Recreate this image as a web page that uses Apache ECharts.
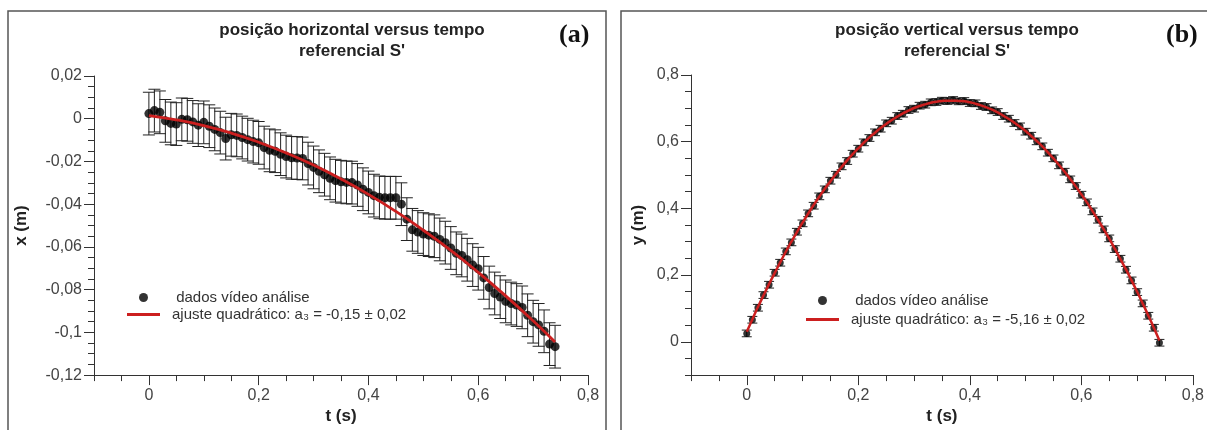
<!DOCTYPE html>
<html>
<head>
<meta charset="utf-8">
<script src="https://cdn.jsdelivr.net/npm/echarts@6/dist/echarts.min.js"></script>
<style>
  html, body { margin: 0; padding: 0; background: #fff; }
  #main { width: 1207px; height: 430px; }
</style>
</head>
<body>
<div id="main"></div>
<script>
// tempo (s) de cada quadro
var tempo = [
  0, 0.01, 0.02, 0.03, 0.04, 0.05, 0.06, 0.07, 0.08, 0.09,
  0.10, 0.11, 0.12, 0.13, 0.14, 0.15, 0.16, 0.17, 0.18, 0.19,
  0.20, 0.21, 0.22, 0.23, 0.24, 0.25, 0.26, 0.27, 0.28, 0.29,
  0.30, 0.31, 0.32, 0.33, 0.34, 0.35, 0.36, 0.37, 0.38, 0.39,
  0.40, 0.41, 0.42, 0.43, 0.44, 0.45, 0.46, 0.47, 0.48, 0.49,
  0.50, 0.51, 0.52, 0.53, 0.54, 0.55, 0.56, 0.57, 0.58, 0.59,
  0.60, 0.61, 0.62, 0.63, 0.64, 0.65, 0.66, 0.67, 0.68, 0.69,
  0.70, 0.71, 0.72, 0.73, 0.74
];
// (a) posição horizontal x (m)
var posX = [
  0.0024, 0.0038, 0.0030, -0.0010, -0.0022, -0.0025, -0.0003, -0.0005, -0.0015, -0.0030,
  -0.0017, -0.0035, -0.0050, -0.0065, -0.0093, -0.0075, -0.0078, -0.0088, -0.0098, -0.0107,
  -0.0113, -0.0135, -0.0148, -0.0152, -0.0166, -0.0177, -0.0183, -0.0184, -0.0186, -0.0210,
  -0.0228, -0.0246, -0.0262, -0.0279, -0.0290, -0.0295, -0.0298, -0.0299, -0.0310, -0.0330,
  -0.0345, -0.0360, -0.0368, -0.0370, -0.0370, -0.0370, -0.0400, -0.0470, -0.0520, -0.0530,
  -0.0540, -0.0545, -0.0550, -0.0565, -0.0580, -0.0605, -0.0630, -0.0640, -0.0660, -0.0685,
  -0.0702, -0.0745, -0.0790, -0.0818, -0.0835, -0.0855, -0.0865, -0.0872, -0.0883, -0.0920,
  -0.0950, -0.0965, -0.0995, -0.1055, -0.1067
];
var erroX = 0.01;
// ajuste quadrático (a)
var tempoAjusteX = [0, 0.05, 0.10, 0.15, 0.20, 0.25, 0.30, 0.35, 0.40, 0.45, 0.50, 0.55, 0.60, 0.65, 0.70, 0.74];
var ajusteX = [0.0015, -0.0005, -0.0032, -0.0067, -0.0110, -0.0160, -0.0217, -0.0282, -0.0354, -0.0434, -0.0522, -0.0616, -0.0719, -0.0829, -0.0946, -0.1045];

// (b) posição vertical y (m)
var posY = [
  0.025, 0.066, 0.102, 0.140, 0.171, 0.207, 0.237, 0.271, 0.298, 0.330,
  0.355, 0.385, 0.408, 0.436, 0.457, 0.483, 0.501, 0.526, 0.542, 0.564,
  0.579, 0.598, 0.611, 0.628, 0.639, 0.655, 0.663, 0.677, 0.684, 0.695,
  0.699, 0.708, 0.711, 0.718, 0.719, 0.723, 0.722, 0.725, 0.721, 0.722,
  0.716, 0.715, 0.707, 0.704, 0.694, 0.689, 0.677, 0.669, 0.656, 0.646,
  0.630, 0.618, 0.601, 0.586, 0.567, 0.550, 0.529, 0.510, 0.487, 0.467,
  0.441, 0.418, 0.391, 0.366, 0.337, 0.310, 0.278, 0.249, 0.216, 0.184,
  0.149, 0.115, 0.078, 0.042, -0.003
];
var erroY = 0.01;
// ajuste quadrático (b)
var ajusteY = [
  0.030, 0.067, 0.104, 0.139, 0.173, 0.206, 0.238, 0.270, 0.300, 0.329,
  0.357, 0.384, 0.410, 0.435, 0.459, 0.481, 0.503, 0.524, 0.544, 0.563,
  0.580, 0.597, 0.613, 0.627, 0.641, 0.653, 0.665, 0.675, 0.685, 0.693,
  0.701, 0.707, 0.712, 0.717, 0.720, 0.722, 0.723, 0.723, 0.722, 0.721,
  0.718, 0.714, 0.709, 0.703, 0.696, 0.688, 0.678, 0.668, 0.657, 0.645,
  0.632, 0.617, 0.602, 0.586, 0.568, 0.550, 0.530, 0.510, 0.488, 0.466,
  0.442, 0.418, 0.392, 0.365, 0.338, 0.309, 0.279, 0.248, 0.217, 0.184,
  0.150, 0.115, 0.079, 0.042, 0.004
];

// ticks
var ticksXMajor = [0, 0.2, 0.4, 0.6, 0.8];
var ticksAMajor = [-0.12, -0.1, -0.08, -0.06, -0.04, -0.02, 0, 0.02];
var ticksBMajor = [0, 0.2, 0.4, 0.6, 0.8];

var fonte = "'Liberation Sans', Arial, 'DejaVu Sans', sans-serif";
var corEixo = '#333';
var vermelho = '#cc1f1f';
var iconeLinha = 'path://M0,0h33v3h-33z';

function virgula(v) {
  return String(+v.toFixed(3)).replace('.', ',');
}

function zip(xs, ys, e) {
  return xs.map(function (x, i) {
    return e === undefined ? [x, ys[i]] : [x, ys[i], e];
  });
}

// barras de erro
function barraErro(w) {
  return function (params, api) {
    var t = api.value(0), v = api.value(1), e = api.value(2);
    var hi = api.coord([t, v + e]);
    var lo = api.coord([t, v - e]);
    var st = { stroke: '#222', lineWidth: 1 };
    return {
      type: 'group',
      children: [
        { type: 'line', shape: { x1: hi[0], y1: hi[1], x2: lo[0], y2: lo[1] }, style: st },
        { type: 'line', shape: { x1: hi[0] - w, y1: hi[1], x2: hi[0] + w, y2: hi[1] }, style: st },
        { type: 'line', shape: { x1: lo[0] - w, y1: lo[1], x2: lo[0] + w, y2: lo[1] }, style: st }
      ]
    };
  };
}

function eixoMenor(grid, min, max, interval, pos) {
  return {
    gridIndex: grid, type: 'value', min: min, max: max, interval: interval, position: pos,
    axisLine: { show: true, onZero: false, lineStyle: { color: corEixo, width: 1 } },
    axisTick: { show: true, length: 6, lineStyle: { color: corEixo } },
    axisLabel: { show: false },
    splitLine: { show: false }
  };
}

function eixoMaior(grid, min, max, valores, pos, nome, gap) {
  return {
    gridIndex: grid, type: 'value', min: min, max: max, position: pos,
    name: nome, nameLocation: 'middle', nameGap: gap,
    nameTextStyle: { fontFamily: fonte, fontSize: 17, fontWeight: 'bold', color: '#222' },
    axisLine: { show: false, onZero: false },
    axisTick: { show: true, length: 10, customValues: valores, lineStyle: { color: corEixo } },
    axisLabel: {
      customValues: valores, margin: 12, formatter: virgula,
      fontFamily: fonte, fontSize: 16, color: '#444'
    },
    splitLine: { show: false }
  };
}

var myChart = echarts.init(document.getElementById('main'));
var option = {
  backgroundColor: '#fff',
  animation: false,
  title: [
    {
      text: "posição horizontal versus tempo\nreferencial S'",
      left: 347, top: 15, textAlign: 'center',
      textStyle: { fontFamily: fonte, fontSize: 17, fontWeight: 'bold', lineHeight: 21, color: '#222' }
    },
    {
      text: "posição vertical versus tempo\nreferencial S'",
      left: 952, top: 15, textAlign: 'center',
      textStyle: { fontFamily: fonte, fontSize: 17, fontWeight: 'bold', lineHeight: 21, color: '#222' }
    },
    {
      text: '(a)', left: 554, top: 17,
      textStyle: { fontFamily: "'Liberation Serif', 'DejaVu Serif', serif", fontSize: 26, fontWeight: 'bold', color: '#111' }
    },
    {
      text: '(b)', left: 1161, top: 17,
      textStyle: { fontFamily: "'Liberation Serif', 'DejaVu Serif', serif", fontSize: 26, fontWeight: 'bold', color: '#111' }
    }
  ],
  graphic: [
    { type: 'rect', shape: { x: 8, y: 11, width: 598, height: 440 }, style: { fill: 'none', stroke: '#555', lineWidth: 1.5 }, z: -1 },
    { type: 'rect', shape: { x: 621, y: 11, width: 620, height: 440 }, style: { fill: 'none', stroke: '#555', lineWidth: 1.5 }, z: -1 }
  ],
  legend: [
    {
      orient: 'vertical', left: 127, top: 290, padding: 0, itemWidth: 33, itemHeight: 9, itemGap: 2,
      data: [' dados vídeo análise', { name: 'ajuste quadrático: a₃ = -0,15 ± 0,02', icon: iconeLinha }],
      textStyle: { fontFamily: fonte, fontSize: 15, color: '#333', padding: [0, 0, 0, 7] }
    },
    {
      orient: 'vertical', left: 806, top: 293, padding: 0, itemWidth: 33, itemHeight: 9, itemGap: 4,
      data: ['\u00a0dados vídeo análise', { name: 'ajuste quadrático: a₃ = -5,16 ± 0,02', icon: iconeLinha }],
      textStyle: { fontFamily: fonte, fontSize: 15, color: '#333', padding: [0, 0, 0, 7] }
    }
  ],
  grid: [
    { left: 94, right: 619, top: 76, bottom: 53 },
    { left: 691, right: 5, top: 75, bottom: 52 }
  ],
  xAxis: [
    eixoMenor(0, -0.1, 0.8, 0.05, 'bottom'),
    eixoMaior(0, -0.1, 0.8, ticksXMajor, 'bottom', 't (s)', 32),
    eixoMenor(1, -0.1, 0.8, 0.05, 'bottom'),
    eixoMaior(1, -0.1, 0.8, ticksBMajor, 'bottom', 't (s)', 32)
  ],
  yAxis: [
    eixoMenor(0, -0.12, 0.02, 0.005, 'left'),
    eixoMaior(0, -0.12, 0.02, ticksAMajor, 'left', 'x (m)', 64),
    eixoMenor(1, -0.1, 0.8, 0.05, 'left'),
    eixoMaior(1, -0.1, 0.8, ticksBMajor, 'left', 'y (m)', 44)
  ],
  series: [
    {
      type: 'custom', xAxisIndex: 0, yAxisIndex: 0, z: 1,
      renderItem: barraErro(6), data: zip(tempo, posX, erroX)
    },
    {
      name: ' dados vídeo análise', type: 'scatter', xAxisIndex: 0, yAxisIndex: 0, z: 2,
      symbolSize: 9, itemStyle: { color: '#000' }, data: zip(tempo, posX)
    },
    {
      name: 'ajuste quadrático: a₃ = -0,15 ± 0,02', type: 'line', xAxisIndex: 0, yAxisIndex: 0, z: 3,
      smooth: true, symbol: 'none', lineStyle: { color: vermelho, width: 2.8 }, itemStyle: { color: vermelho },
      data: zip(tempoAjusteX, ajusteX)
    },
    {
      type: 'custom', xAxisIndex: 2, yAxisIndex: 2, z: 1,
      renderItem: barraErro(5), data: zip(tempo, posY, erroY)
    },
    {
      name: '\u00a0dados vídeo análise', type: 'scatter', xAxisIndex: 2, yAxisIndex: 2, z: 2,
      symbolSize: 7, itemStyle: { color: '#000' }, data: zip(tempo, posY)
    },
    {
      name: 'ajuste quadrático: a₃ = -5,16 ± 0,02', type: 'line', xAxisIndex: 2, yAxisIndex: 2, z: 3,
      smooth: true, symbol: 'none', lineStyle: { color: vermelho, width: 2.5 }, itemStyle: { color: vermelho },
      data: zip(tempo, ajusteY)
    }
  ]
};
myChart.setOption(option);
window.addEventListener('resize', function () {
  myChart.resize();
});
</script>
</body>
</html>
